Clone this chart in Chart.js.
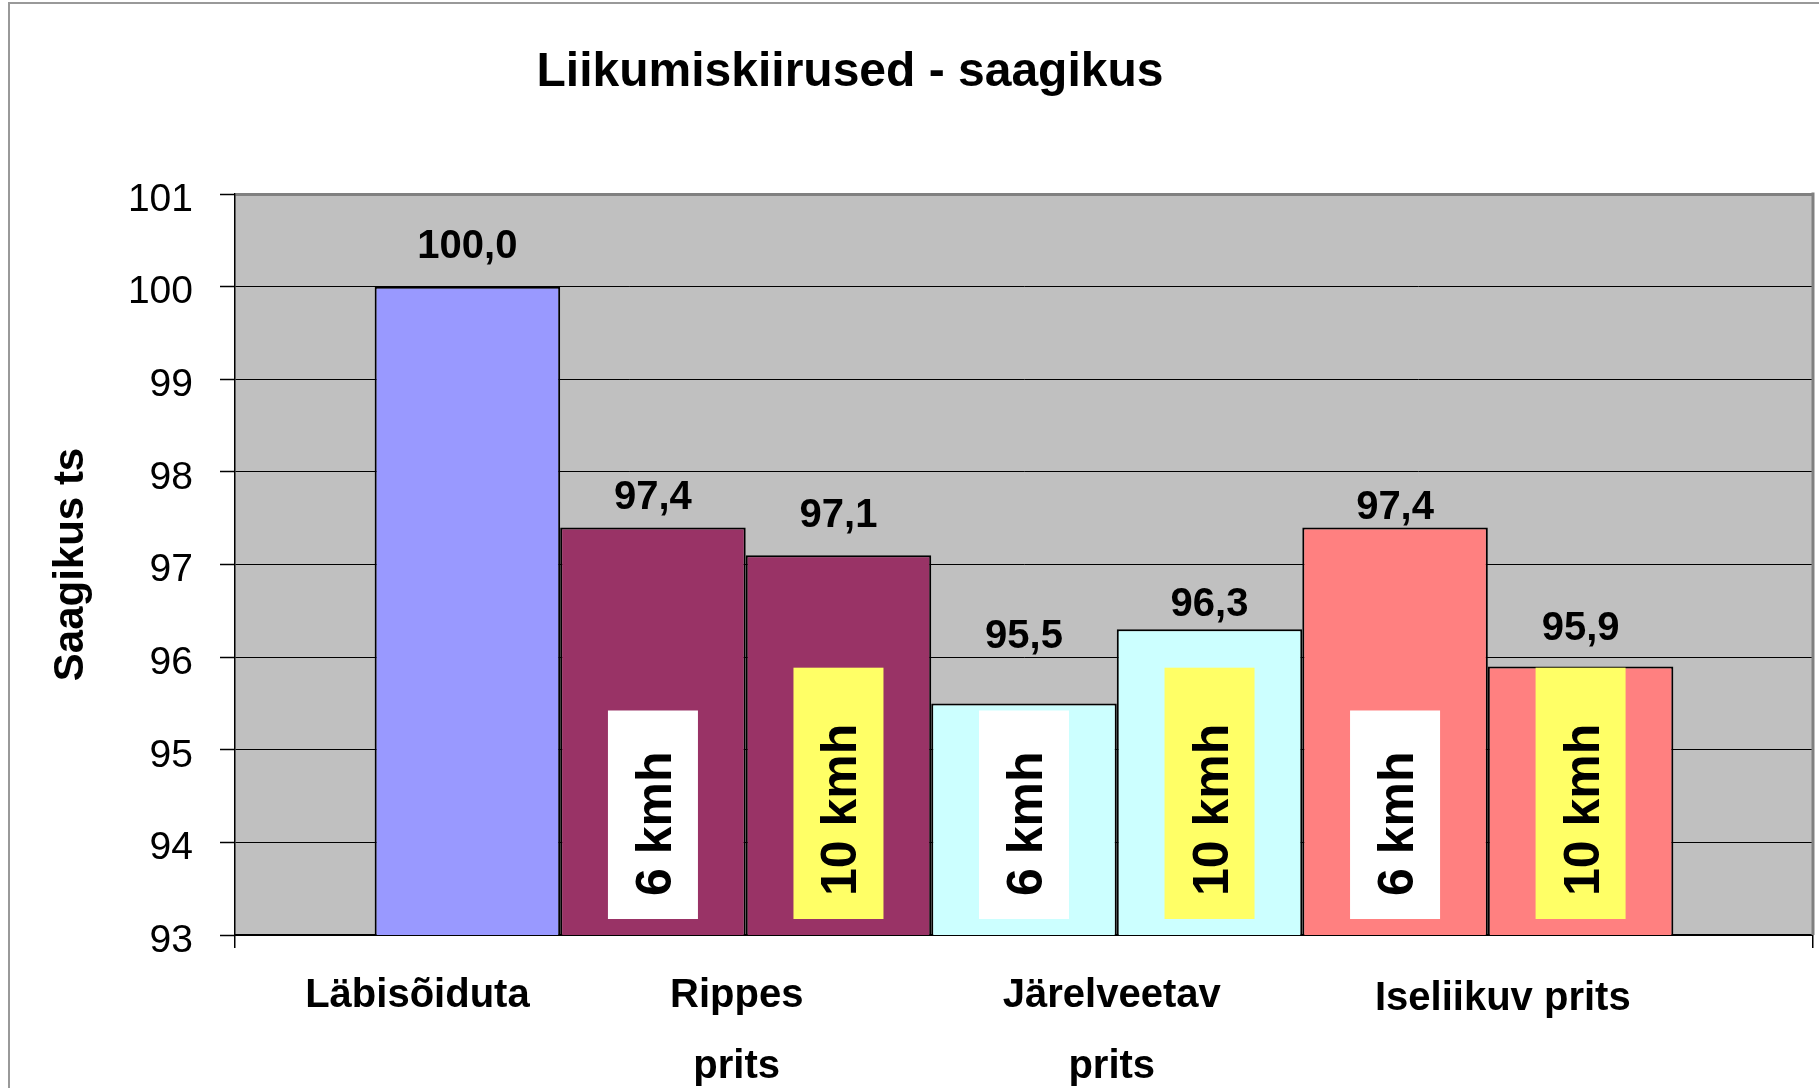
<!DOCTYPE html>
<html>
<head>
<meta charset="utf-8">
<script src="https://cdn.jsdelivr.net/npm/chart.js@4.4.1/dist/chart.umd.min.js"></script>
<style>
  html, body { margin: 0; padding: 0; background: #fff; }
  canvas { display: block; }
</style>
</head>
<body>
<canvas id="chart" width="1819" height="1088"></canvas>
<script>
// data
var chartTitle = 'Liikumiskiirused - saagikus';
var axisTitle = 'Saagikus ts';
var seriesNames = ['Läbisõiduta', 'Rippes prits 6 kmh', 'Rippes prits 10 kmh',
  'Järelveetav prits 6 kmh', 'Järelveetav prits 10 kmh',
  'Iseliikuv prits 6 kmh', 'Iseliikuv prits 10 kmh'];
var yieldValues = [100.0, 97.4, 97.1, 95.5, 96.3, 97.4, 95.9];
var speedTags = ['', '6 kmh', '10 kmh', '6 kmh', '10 kmh', '6 kmh', '10 kmh'];
var groupNames = [['Läbisõiduta'], ['Rippes', 'prits'], ['Järelveetav', 'prits'], ['Iseliikuv prits']];
var groupSeries = [[0], [1, 2], [3, 4], [5, 6]];
var yTicks = [93, 94, 95, 96, 97, 98, 99, 100, 101];

// look
var FONT = "'Liberation Sans', Arial, sans-serif";
var fills = ['#9999FF', '#993366', '#993366', '#CCFFFF', '#CCFFFF', '#FF8080', '#FF8080'];
var tagFills = { '6 kmh': '#FFFFFF', '10 kmh': '#FFFF66' };
var tagTopPad = { '6 kmh': 41, '10 kmh': 56 };
var valueLift = [43, 32, 42, 69, 27, 22, 40];
var groupShift = [-50, -9, -5, 15];

function fmt(v) { return v.toFixed(1).replace('.', ','); }

var extras = {
  id: 'extras',
  beforeDraw: function (chart) {
    var c = chart.ctx, a = chart.chartArea;
    c.save();
    c.fillStyle = '#fff';
    c.fillRect(0, 0, chart.width, chart.height);
    c.strokeStyle = '#999';
    c.lineWidth = 2;
    c.beginPath();
    c.moveTo(9, chart.height);
    c.lineTo(9, 3);
    c.lineTo(chart.width, 3);
    c.stroke();
    c.fillStyle = '#C0C0C0';
    c.fillRect(a.left, a.top, a.right - a.left, a.bottom - a.top);
    c.restore();
  },
  beforeDatasetsDraw: function (chart) {
    var c = chart.ctx, a = chart.chartArea;
    c.save();
    c.strokeStyle = '#808080';
    c.lineWidth = 3;
    c.beginPath();
    c.moveTo(a.right, a.top - 1.5);
    c.lineTo(a.right, a.bottom);
    c.stroke();
    c.restore();
  },
  afterDatasetsDraw: function (chart) {
    var c = chart.ctx;
    var ys = chart.scales.y;
    var base = ys.getPixelForValue(yTicks[0]);
    c.save();
    for (var i = 0; i < yieldValues.length; i++) {
      var bar = chart.getDatasetMeta(i).data[0];
      // value label
      c.fillStyle = '#000';
      c.font = 'bold 40px ' + FONT;
      c.textAlign = 'center';
      c.textBaseline = 'alphabetic';
      c.fillText(fmt(yieldValues[i]), bar.x, bar.y - valueLift[i] + 14);
      // speed tag
      var tag = speedTags[i];
      if (!tag) continue;
      c.font = 'bold 50px ' + FONT;
      var w = c.measureText(tag).width;
      var bottom = base - 16;
      var start = bottom - 23;
      var top = start - w - tagTopPad[tag];
      c.fillStyle = tagFills[tag];
      c.fillRect(bar.x - 45, top, 90, bottom - top);
      c.save();
      c.translate(bar.x, start);
      c.rotate(-Math.PI / 2);
      c.fillStyle = '#000';
      c.textAlign = 'left';
      c.textBaseline = 'alphabetic';
      c.fillText(tag, 0, 18);
      c.restore();
    }
    c.restore();
  },
  afterDraw: function (chart) {
    var c = chart.ctx, a = chart.chartArea;
    c.save();
    c.fillStyle = '#000';
    c.textAlign = 'center';
    c.textBaseline = 'alphabetic';
    c.font = 'bold 48px ' + FONT;
    c.fillText(chartTitle, 850, 86);
    c.font = 'bold 40px ' + FONT;
    groupNames.forEach(function (lines, g) {
      var xs = groupSeries[g].map(function (i) { return chart.getDatasetMeta(i).data[0].x; });
      var cx = xs.reduce(function (s, v) { return s + v; }, 0) / xs.length + groupShift[g];
      var extra = lines.length === 1 && g > 0 ? 3 : 0;
      lines.forEach(function (t, k) {
        c.fillText(t, cx, a.bottom + 72 + extra + k * 71);
      });
    });
    c.restore();
  }
};

var datasets = seriesNames.map(function (name, i) {
  return {
    label: name,
    data: [yieldValues[i]],
    backgroundColor: fills[i],
    borderColor: '#000',
    borderWidth: 2,
    borderSkipped: false,
    categoryPercentage: 0.823,
    barPercentage: 1
  };
});

new Chart(document.getElementById('chart'), {
  type: 'bar',
  data: { labels: [''], datasets: datasets },
  options: {
    responsive: false,
    animation: false,
    devicePixelRatio: 1,
    layout: { padding: { top: 194, right: 6, bottom: 0, left: 0 } },
    plugins: { legend: { display: false }, tooltip: { enabled: false } },
    scales: {
      x: {
        ticks: { display: false },
        grid: { display: true, drawOnChartArea: false, drawTicks: true, tickLength: 13, color: '#000', lineWidth: 1.5, offset: true },
        border: { color: '#000', width: 2 },
        afterFit: function (s) { s.height = 153; }
      },
      y: {
        min: yTicks[0],
        max: yTicks[yTicks.length - 1],
        afterBuildTicks: function (s) { s.ticks = yTicks.map(function (v) { return { value: v }; }); },
        ticks: { font: { family: FONT, size: 39 }, color: '#000', padding: 27, labelOffset: 6 },
        grid: {
          color: function (ctx) { return ctx.tick && ctx.tick.value === 101 ? '#808080' : '#000'; },
          lineWidth: function (ctx) { return ctx.tick && ctx.tick.value === 101 ? 3 : 1; },
          tickColor: '#000',
          tickWidth: 1.5,
          tickLength: 15,
          drawTicks: true
        },
        border: { color: '#000', width: 1.5 },
        title: {
          display: true,
          text: axisTitle,
          color: '#000',
          font: { family: FONT, size: 42, weight: 'bold' },
          padding: { top: 46, bottom: 0 }
        },
        afterFit: function (s) { s.width = 235; }
      }
    }
  },
  plugins: [extras]
});
</script>
</body>
</html>
